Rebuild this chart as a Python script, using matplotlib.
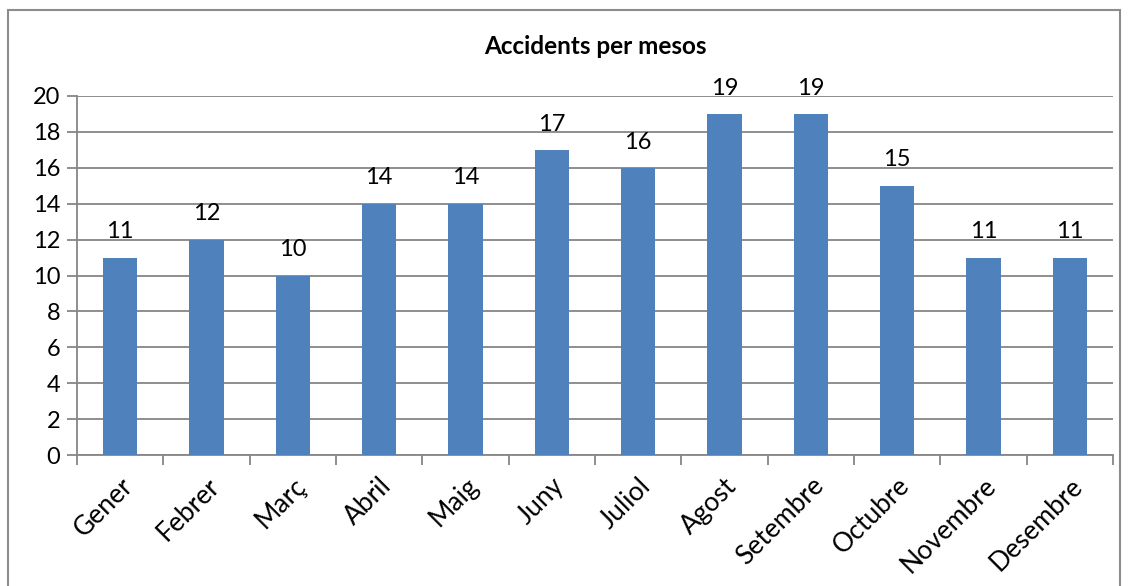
import matplotlib.pyplot as plt
import matplotlib.patches as mpatches
import numpy as np

# Data
months = ["Gener", "Febrer", "Març", "Abril", "Maig", "Juny", "Juliol",
          "Agost", "Setembre", "Octubre", "Novembre", "Desembre"]
accidents = [11, 12, 10, 14, 14, 17, 16, 19, 19, 15, 11, 11]
y_ticks = [0, 2, 4, 6, 8, 10, 12, 14, 16, 18, 20]

plt.rcParams["font.family"] = ["Lato", "DejaVu Sans"]

W, H = 1131, 586
fig = plt.figure(figsize=(W / 100, H / 100), dpi=100)
ax = fig.add_axes([77 / W, 1 - 455 / H, (1113 - 77) / W, (455 - 96) / H])

# outer chart border (bottom edge cut off in the original)
fig.patches.append(mpatches.Rectangle((8 / W, -0.05), (1120 - 8) / W, 1.05 - 10 / H,
                                      transform=fig.transFigure, fill=False,
                                      edgecolor="#8c8c8c", linewidth=1.5))

x = np.arange(len(months))
bars = ax.bar(x, accidents, width=0.4, color="#4F81BD", zorder=3)

for bar, v in zip(bars, accidents):
    ax.text(bar.get_x() + bar.get_width() / 2, v + 0.85, str(v),
            ha="center", va="bottom", fontsize=17, color="black")

ax.set_xlim(-0.5, len(months) - 0.5)
ax.set_ylim(0, 20)
ax.set_yticks(y_ticks)
ax.set_yticklabels([str(t) for t in y_ticks], fontsize=17)
ax.yaxis.grid(True, color="#868686", linewidth=1.3, zorder=0)

ax.set_xticks(x)
ax.set_xticklabels(months, rotation=45, ha="right", rotation_mode="anchor", fontsize=19)
ax.tick_params(axis="x", length=0, pad=13)
ax.set_xticks(np.arange(-0.5, len(months) + 0.5, 1), minor=True)
ax.tick_params(axis="x", which="minor", length=7, width=1.3, color="#868686")
ax.tick_params(axis="y", length=7, width=1.3, color="#868686", pad=5)

for s in ["top", "right"]:
    ax.spines[s].set_visible(False)
for s in ["left", "bottom"]:
    ax.spines[s].set_color("#868686")
    ax.spines[s].set_linewidth(1.3)

fig.text((77 + 1113) / 2 / W, 1 - 47 / H, "Accidents per mesos", ha="center", va="center",
         fontsize=17.5, fontweight="bold")

plt.savefig("out.png", dpi=100)
